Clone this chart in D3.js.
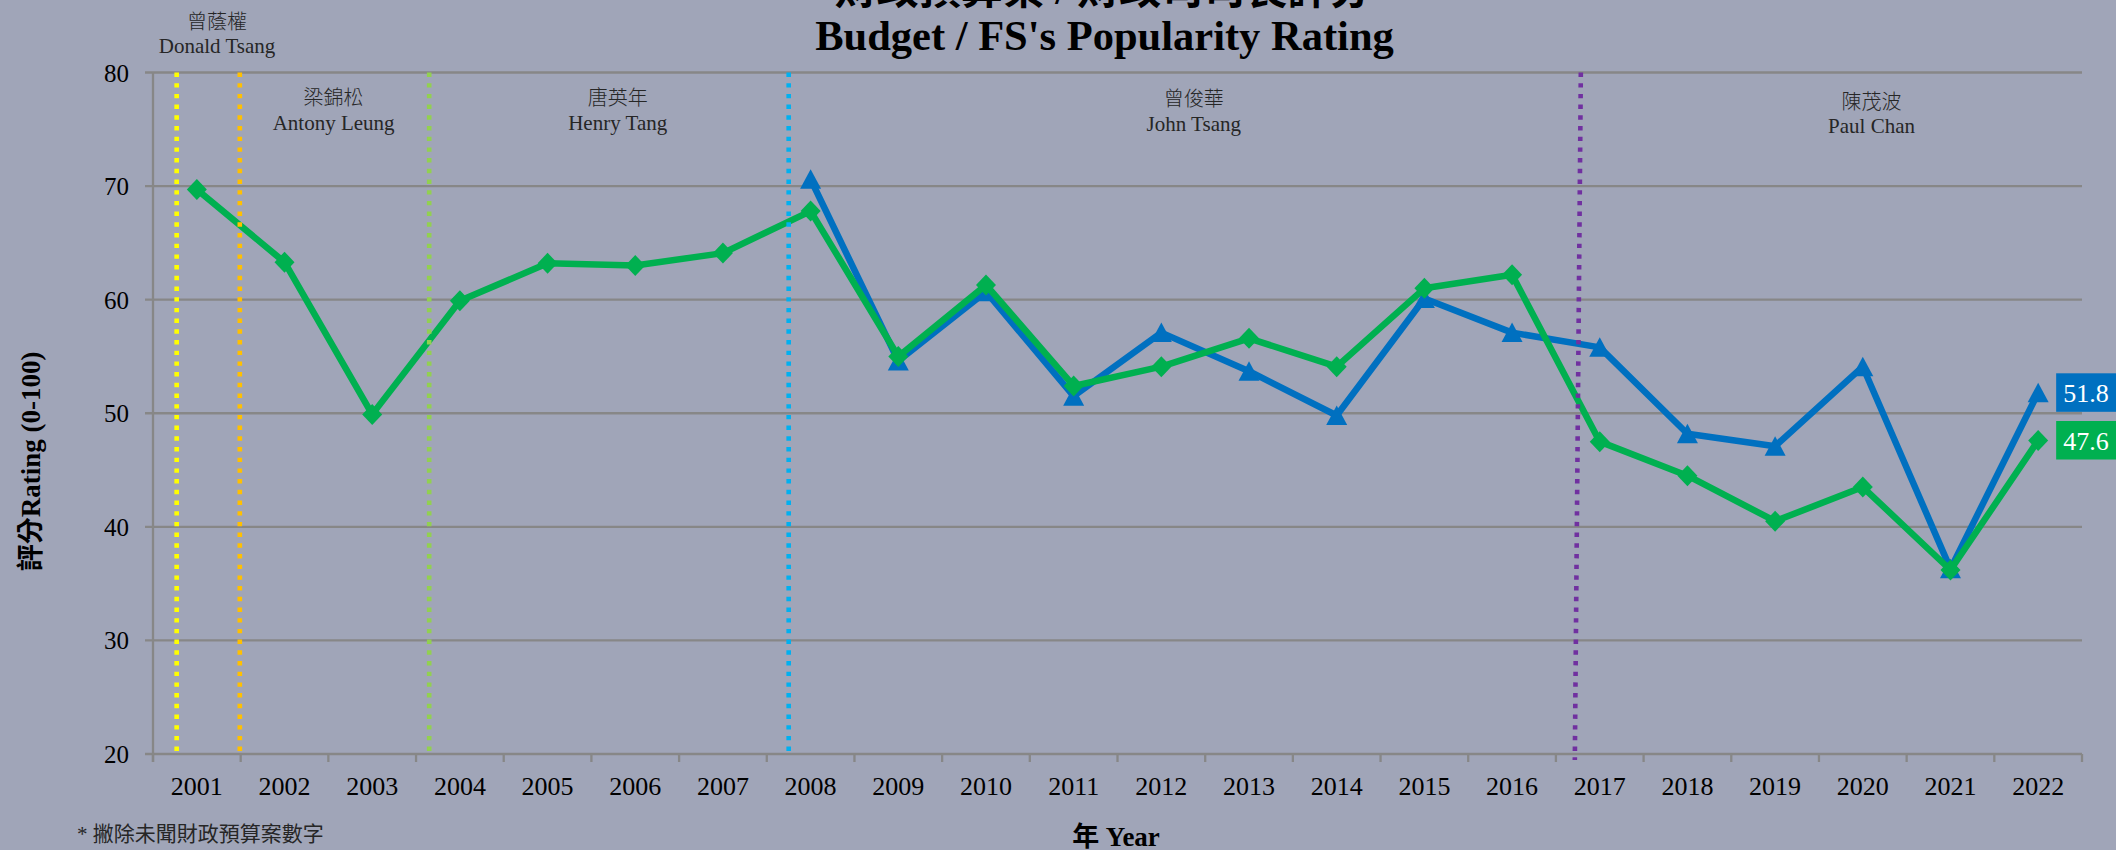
<!DOCTYPE html>
<html><head><meta charset="utf-8">
<script src="https://cdn.jsdelivr.net/npm/d3@7"></script>
<style>
html,body{margin:0;padding:0;background:#A0A5B8;overflow:hidden}
svg{display:block}
text{font-family:"Liberation Serif","Times New Roman","Noto Sans CJK TC",serif}
</style></head><body>
<svg id="c" width="2116" height="850"></svg>
<script>
// ---------------- data ----------------
const years = ["2001","2002","2003","2004","2005","2006","2007","2008","2009","2010","2011",
               "2012","2013","2014","2015","2016","2017","2018","2019","2020","2021","2022"];
const budgetRating = [69.7,63.3,49.9,59.9,63.2,63.0,64.1,67.8,55.0,61.3,52.4,
                      54.1,56.6,54.1,61.0,62.2,47.5,44.5,40.5,43.5,36.2,47.6];
const fsYears = ["2008","2009","2010","2011","2012","2013","2014","2015","2016","2017","2018",
                 "2019","2020","2021","2022"];
const fsRating = [70.6,54.6,60.7,51.5,57.1,53.7,49.8,60.1,57.1,55.8,48.2,47.1,54.1,36.3,51.8];
const yTicks = [20,30,40,50,60,70,80];
const fsNamesZh = ["曾蔭權","梁錦松","唐英年","曾俊華","陳茂波"];
const fsNamesEn = ["Donald Tsang","Antony Leung","Henry Tang","John Tsang","Paul Chan"];
const termChanges = [2000.77, 2001.49, 2003.65, 2007.75, 2016.75]; // in year units
const titleZh = "財政預算案 / 財政司司長評分";
const titleEn = "Budget / FS's Popularity Rating";
const yTitle = "評分Rating (0-100)";
const xTitle = "年 Year";
const footnote = "* 撇除未聞財政預算案數字";

// ---------------- layout / style ----------------
const termColors = ["#FFFF00","#FFC000","#92D050","#00B0F0","#7030A0"];
const nameCenters = [2001.23, 2002.56, 2005.80, 2012.37, 2020.10];
const nameZhY = [28.5, 104.5, 104.5, 105.5, 108.5];
const nameEnY = [53, 130, 130, 131, 133];
const GREEN = "#00B050", BLUE = "#0070C0", GRID = "#878787";

const svg = d3.select("#c");
svg.append("rect").attr("width",2116).attr("height",850).attr("fill","#A0A5B8");

const x = d3.scaleBand().domain(years).range([153, 2082]).padding(0);
const xc = d => x(d) + x.bandwidth()/2;
const xt = d3.scaleLinear().domain([2000.5, 2022.5]).range([153, 2082]);
const y = d3.scaleLinear().domain([20, 80]).range([754, 72.5]);

// gridlines
svg.append("g").selectAll("line").data(yTicks).join("line")
  .attr("x1",145).attr("x2",2082)
  .attr("y1",d=>y(d)).attr("y2",d=>y(d))
  .attr("stroke",GRID).attr("stroke-width",2.3);

// y axis line
svg.append("line").attr("x1",153).attr("x2",153).attr("y1",y(80)).attr("y2",762)
  .attr("stroke",GRID).attr("stroke-width",2.3);

// x ticks at band boundaries
svg.append("g").selectAll("line").data(d3.range(2000.5, 2023, 1)).join("line")
  .attr("x1",d=>xt(d)).attr("x2",d=>xt(d)).attr("y1",y(20)).attr("y2",762)
  .attr("stroke",GRID).attr("stroke-width",2.3);

// y tick labels
const ya = svg.append("g").attr("transform","translate(153,0)")
  .call(d3.axisLeft(y).tickValues(yTicks).tickSize(0).tickPadding(24));
ya.select(".domain").remove();
ya.selectAll("text").attr("font-size",25).attr("fill","#000")
  .attr("font-family","Liberation Serif").attr("dy","0.34em");

// x tick labels
const xa = svg.append("g").attr("transform",`translate(0,${y(20)})`)
  .call(d3.axisBottom(x).tickSize(0));
xa.select(".domain").remove();
xa.selectAll("text").attr("font-size",26).attr("fill","#000")
  .attr("font-family","Liberation Serif").attr("dy",null).attr("y",41);

// series lines
const line = d3.line().x(d=>xc(d[0])).y(d=>y(d[1]));
const fsData = fsYears.map((d,i)=>[d, fsRating[i]]);
const budgetData = years.map((d,i)=>[d, budgetRating[i]]);

svg.append("path").datum(fsData).attr("d",line).attr("fill","none")
  .attr("stroke",BLUE).attr("stroke-width",6.5).attr("stroke-linejoin","round");
svg.append("g").selectAll("path").data(fsData).join("path")
  .attr("transform",d=>`translate(${xc(d[0])},${y(d[1])})`)
  .attr("d","M0,-10 L10.5,9.5 L-10.5,9.5 Z").attr("fill",BLUE);

svg.append("path").datum(budgetData).attr("d",line).attr("fill","none")
  .attr("stroke",GREEN).attr("stroke-width",6.5).attr("stroke-linejoin","round");
svg.append("g").selectAll("path").data(budgetData).join("path")
  .attr("transform",d=>`translate(${xc(d[0])},${y(d[1])})`)
  .attr("d","M0,-10.5 L10,0 L0,10.5 L-10,0 Z").attr("fill",GREEN);

// end value labels
const ends = [[fsData[fsData.length-1], BLUE],[budgetData[budgetData.length-1], GREEN]];
ends.forEach(([d,col])=>{
  const px = xc(d[0]) + 18, py = y(d[1]);
  svg.append("rect").attr("x",px).attr("y",py-19.5).attr("width",62).attr("height",38.5).attr("fill",col);
  svg.append("text").attr("x",px+7).attr("y",py+9).attr("font-size",26).attr("fill","#fff")
    .attr("font-family","Liberation Serif").text(d[1].toFixed(1));
});

// term change dotted lines (on top)
svg.append("g").selectAll("line").data(termChanges).join("line")
  .attr("x1",d=>xt(d)+ (d>2016?3:0)).attr("x2",d=>xt(d) - (d>2016?3:0))
  .attr("y1",y(80)).attr("y2",d=> d>2016 ? 760 : 751)
  .attr("stroke",(d,i)=>termColors[i]).attr("stroke-width",4.6)
  .attr("stroke-dasharray","4.4 6.3");

// FS names
const ng = svg.append("g").attr("fill","#262626");
ng.selectAll("text.zh").data(fsNamesZh).join("text").attr("class","zh")
  .attr("x",(d,i)=>xt(nameCenters[i])).attr("y",(d,i)=>nameZhY[i])
  .attr("text-anchor","middle").attr("font-size",20)
  .attr("font-family","Noto Sans CJK TC").attr("font-weight",300).text(d=>d);
ng.selectAll("text.en").data(fsNamesEn).join("text").attr("class","en")
  .attr("x",(d,i)=>xt(nameCenters[i])).attr("y",(d,i)=>nameEnY[i])
  .attr("text-anchor","middle").attr("font-size",21)
  .attr("font-family","Liberation Serif").text(d=>d);

// titles (first line is cut off at the top edge, as in the reference)
svg.append("text").attr("x",1103).attr("y",4).attr("text-anchor","middle")
  .attr("font-size",42).attr("font-weight","bold").attr("fill","#000")
  .attr("font-family","'Liberation Serif','Noto Sans CJK TC'").text(titleZh);
svg.append("text").attr("x",1104.5).attr("y",50).attr("text-anchor","middle")
  .attr("font-size",42.5).attr("font-weight","bold").attr("fill","#000")
  .attr("font-family","Liberation Serif").text(titleEn);

// axis titles
svg.append("text").attr("transform","translate(39.5,461.5) rotate(-90)")
  .attr("text-anchor","middle").attr("font-size",27).attr("font-weight","bold")
  .attr("fill","#000").text(yTitle);
svg.append("text").attr("x",1116).attr("y",846).attr("text-anchor","middle")
  .attr("font-size",27).attr("font-weight","bold").attr("fill","#000").text(xTitle);

// footnote
svg.append("text").attr("x",77).attr("y",841).attr("font-size",21)
  .attr("fill","#262626").text(footnote);
</script>
</body></html>
